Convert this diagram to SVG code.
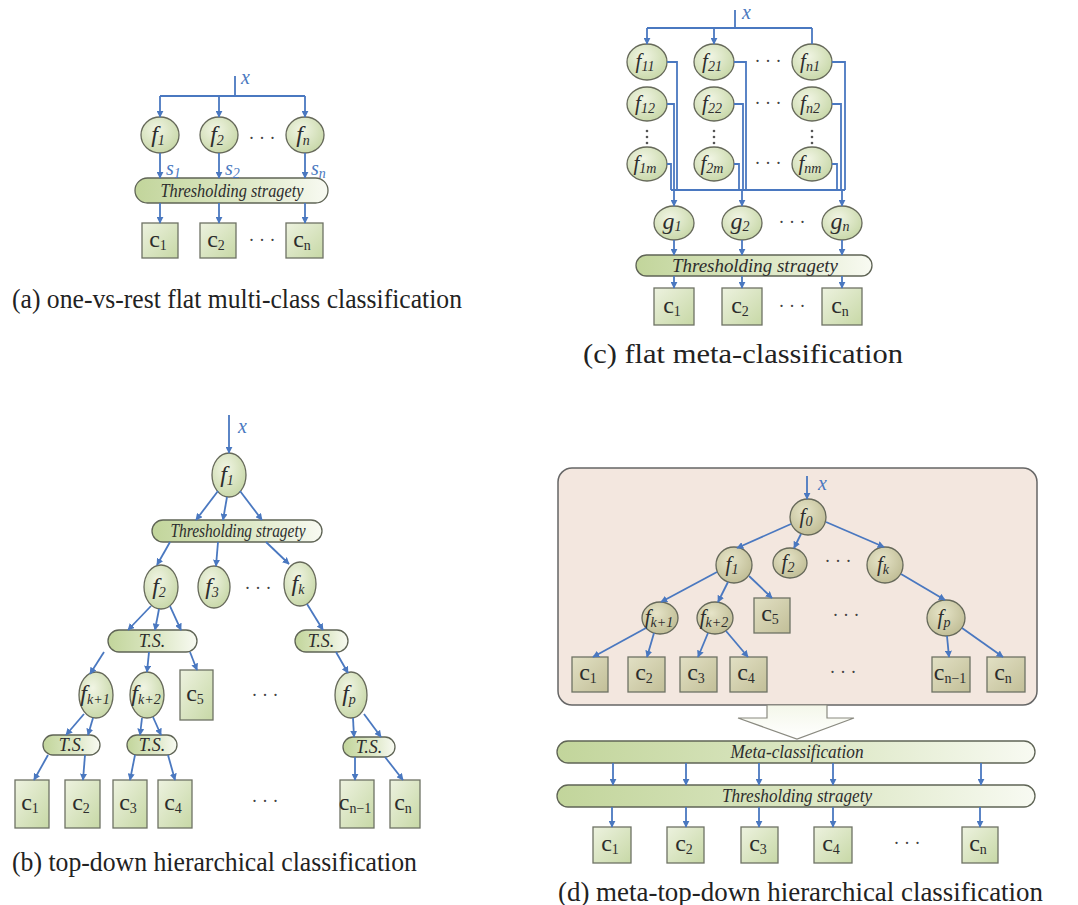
<svg xmlns="http://www.w3.org/2000/svg" width="1078" height="905" viewBox="0 0 1078 905" font-family="'Liberation Serif', serif">
<defs>
<radialGradient id="gN" cx="0.4" cy="0.35" r="0.7"><stop offset="0" stop-color="#f1f5e4"/><stop offset="1" stop-color="#c7d7a7"/></radialGradient>
<radialGradient id="gO" cx="0.4" cy="0.35" r="0.7"><stop offset="0" stop-color="#e6e4c8"/><stop offset="1" stop-color="#bfbc94"/></radialGradient>
<linearGradient id="gB" x1="0" y1="0" x2="1" y2="1"><stop offset="0" stop-color="#edf2df"/><stop offset="1" stop-color="#c7d8a6"/></linearGradient>
<linearGradient id="gBO" x1="0" y1="0" x2="1" y2="1"><stop offset="0" stop-color="#e2e0c4"/><stop offset="1" stop-color="#c2bf98"/></linearGradient>
<linearGradient id="gBar" x1="0" y1="0" x2="1" y2="0"><stop offset="0" stop-color="#c2d59b"/><stop offset="0.6" stop-color="#dfe9c9"/><stop offset="1" stop-color="#f8faf2"/></linearGradient>
<linearGradient id="gArr" x1="0" y1="0" x2="0" y2="1"><stop offset="0" stop-color="#f4f7ea"/><stop offset="1" stop-color="#ffffff"/></linearGradient>
<marker id="ah" viewBox="0 0 10 10" refX="9" refY="5" markerWidth="7" markerHeight="7" markerUnits="userSpaceOnUse" orient="auto"><path d="M0,0 L10,5 L0,10 z" fill="#4a78c0"/></marker>
</defs>
<style>
ellipse{fill:url(#gN);stroke:#66695a;stroke-width:1.3}
rect.bx{fill:url(#gB);stroke:#6e7264;stroke-width:1.3}
rect.bar{fill:url(#gBar);stroke:#5f6455;stroke-width:1.3}
.dd ellipse{fill:url(#gO)}
.dd rect.bx{fill:url(#gBO)}
.c path{fill:none;stroke:#4a78c0;stroke-width:1.8}
.c path.a{marker-end:url(#ah)}
text{font-family:'Liberation Serif',serif;fill:#2d2d2d}
.f{font-style:italic;font-size:24px;text-anchor:middle}
.f2{font-style:italic;font-size:21px;text-anchor:middle}
.sb{font-size:14px}
.cl{font-size:24px;text-anchor:middle}
.ts{font-style:italic;font-size:18px;text-anchor:middle}
.x{font-style:italic;font-size:20px;fill:#4a78c0}
.s{font-style:italic;font-size:20px;fill:#4a78c0}
.dots{font-size:18px;text-anchor:middle;fill:#444}
.cap{font-size:27px;fill:#222}
</style>

<!-- ===== Panel (a) ===== -->
<g id="panel-a">
<g id="a-f1"><ellipse cx="160" cy="135" rx="19" ry="18"/><text class="f" x="158" y="142">f<tspan class="sb" dy="3">1</tspan></text></g>
<g id="a-f2"><ellipse cx="219" cy="135" rx="19" ry="18"/><text class="f" x="217" y="142">f<tspan class="sb" dy="3">2</tspan></text></g>
<g id="a-fn"><ellipse cx="305" cy="135" rx="19" ry="18"/><text class="f" x="303" y="142">f<tspan class="sb" dy="3">n</tspan></text></g>
<text class="dots" x="262" y="144">· · ·</text>
<g id="a-ts"><rect class="bar" x="135" y="178" width="193" height="25" rx="12.5"/><text class="ts" x="232" y="197" textLength="143" lengthAdjust="spacingAndGlyphs">Thresholding stragety</text></g>
<g id="a-c1"><rect class="bx" x="142" y="223" width="36" height="35"/><text class="cl" x="158" y="247">c<tspan class="sb" dy="3">1</tspan></text></g>
<g id="a-c2"><rect class="bx" x="200" y="223" width="36" height="35"/><text class="cl" x="216" y="247">c<tspan class="sb" dy="3">2</tspan></text></g>
<g id="a-cn"><rect class="bx" x="286" y="223" width="37" height="35"/><text class="cl" x="302" y="247">c<tspan class="sb" dy="3">n</tspan></text></g>
<text class="dots" x="262" y="246">· · ·</text>
<text class="x" x="241" y="84">x</text>
<text class="s" x="166" y="175">s<tspan class="sb" dy="3">1</tspan></text>
<text class="s" x="225" y="175">s<tspan class="sb" dy="3">2</tspan></text>
<text class="s" x="311" y="175">s<tspan class="sb" dy="3">n</tspan></text>
<text class="cap" x="12" y="308" textLength="450" lengthAdjust="spacingAndGlyphs">(a) one-vs-rest flat multi-class classification</text>
</g>

<!-- ===== Panel (c) ===== -->
<g id="panel-c">
<g id="c-f11"><ellipse cx="647" cy="62" rx="20" ry="18"/><text class="f2" x="645" y="68">f<tspan class="sb" dy="3">11</tspan></text></g>
<g id="c-f21"><ellipse cx="714" cy="62" rx="20" ry="18"/><text class="f2" x="712" y="68">f<tspan class="sb" dy="3">21</tspan></text></g>
<g id="c-fn1"><ellipse cx="812" cy="62" rx="20" ry="18"/><text class="f2" x="810" y="68">f<tspan class="sb" dy="3">n1</tspan></text></g>
<g id="c-f12"><ellipse cx="647" cy="104" rx="20" ry="17"/><text class="f2" x="645" y="110">f<tspan class="sb" dy="3">12</tspan></text></g>
<g id="c-f22"><ellipse cx="714" cy="104" rx="20" ry="17"/><text class="f2" x="712" y="110">f<tspan class="sb" dy="3">22</tspan></text></g>
<g id="c-fn2"><ellipse cx="812" cy="104" rx="20" ry="17"/><text class="f2" x="810" y="110">f<tspan class="sb" dy="3">n2</tspan></text></g>
<g id="c-f1m"><ellipse cx="647" cy="164" rx="20" ry="17"/><text class="f2" x="645" y="170">f<tspan class="sb" dy="3">1m</tspan></text></g>
<g id="c-f2m"><ellipse cx="714" cy="164" rx="20" ry="17"/><text class="f2" x="712" y="170">f<tspan class="sb" dy="3">2m</tspan></text></g>
<g id="c-fnm"><ellipse cx="812" cy="164" rx="20" ry="17"/><text class="f2" x="810" y="170">f<tspan class="sb" dy="3">nm</tspan></text></g>
<g fill="#555">
<circle cx="647" cy="131" r="1.3"/><circle cx="647" cy="137" r="1.3"/><circle cx="647" cy="143" r="1.3"/>
<circle cx="714" cy="131" r="1.3"/><circle cx="714" cy="137" r="1.3"/><circle cx="714" cy="143" r="1.3"/>
<circle cx="812" cy="131" r="1.3"/><circle cx="812" cy="137" r="1.3"/><circle cx="812" cy="143" r="1.3"/>
</g>
<text class="dots" x="768" y="67">· · ·</text>
<text class="dots" x="768" y="109">· · ·</text>
<text class="dots" x="768" y="169">· · ·</text>
<g id="c-g1"><ellipse cx="674" cy="223" rx="20" ry="17"/><text class="f" x="672" y="229">g<tspan class="sb" dy="2">1</tspan></text></g>
<g id="c-g2"><ellipse cx="742" cy="223" rx="20" ry="17"/><text class="f" x="740" y="229">g<tspan class="sb" dy="2">2</tspan></text></g>
<g id="c-gn"><ellipse cx="842" cy="223" rx="20" ry="17"/><text class="f" x="840" y="229">g<tspan class="sb" dy="2">n</tspan></text></g>
<text class="dots" x="792" y="228">· · ·</text>
<g id="c-ts"><rect class="bar" x="636" y="255" width="236" height="21" rx="10.5"/><text class="ts" x="755" y="272" textLength="166" lengthAdjust="spacingAndGlyphs">Thresholding stragety</text></g>
<g id="c-c1"><rect class="bx" x="654" y="288" width="40" height="37"/><text class="cl" x="672" y="313">c<tspan class="sb" dy="3">1</tspan></text></g>
<g id="c-c2"><rect class="bx" x="722" y="288" width="40" height="37"/><text class="cl" x="740" y="313">c<tspan class="sb" dy="3">2</tspan></text></g>
<g id="c-cn"><rect class="bx" x="822" y="288" width="40" height="37"/><text class="cl" x="840" y="313">c<tspan class="sb" dy="3">n</tspan></text></g>
<text class="dots" x="792" y="312">· · ·</text>
<text class="x" x="742" y="19">x</text>
<text class="cap" x="583" y="363" textLength="320" lengthAdjust="spacingAndGlyphs">(c)  flat meta-classification</text>
</g>

<!-- ===== Panel (b) ===== -->
<g id="panel-b">
<g id="b-f1"><ellipse cx="229" cy="475" rx="17" ry="22"/><text class="f" x="227" y="482">f<tspan class="sb" dy="3">1</tspan></text></g>
<g id="b-ts1"><rect class="bar" x="152" y="520" width="170" height="22" rx="11"/><text class="ts" x="238" y="537" textLength="135" lengthAdjust="spacingAndGlyphs">Thresholding stragety</text></g>
<g id="b-f2"><ellipse cx="161" cy="587" rx="17" ry="22"/><text class="f" x="159" y="594">f<tspan class="sb" dy="3">2</tspan></text></g>
<g id="b-f3"><ellipse cx="214" cy="587" rx="16" ry="21"/><text class="f" x="212" y="594">f<tspan class="sb" dy="3">3</tspan></text></g>
<g id="b-fk"><ellipse cx="300" cy="584" rx="16" ry="22"/><text class="f" x="298" y="591">f<tspan class="sb" dy="3">k</tspan></text></g>
<text class="dots" x="258" y="594">· · ·</text>
<g id="b-ts2"><rect class="bar" x="108" y="630" width="89" height="22" rx="11"/><text class="ts" x="152" y="647">T.S.</text></g>
<g id="b-ts3"><rect class="bar" x="295" y="630" width="53" height="22" rx="11"/><text class="ts" x="321" y="647">T.S.</text></g>
<g id="b-fk1"><ellipse cx="96" cy="695" rx="17" ry="23"/><text class="f" x="95" y="701">f<tspan class="sb" dy="3">k+1</tspan></text></g>
<g id="b-fk2"><ellipse cx="147" cy="695" rx="17" ry="23"/><text class="f" x="146" y="701">f<tspan class="sb" dy="3">k+2</tspan></text></g>
<g id="b-c5"><rect class="bx" x="180" y="670" width="33" height="50"/><text class="cl" x="195" y="701">c<tspan class="sb" dy="3">5</tspan></text></g>
<text class="dots" x="265" y="701">· · ·</text>
<g id="b-fp"><ellipse cx="351" cy="695" rx="16" ry="23"/><text class="f" x="349" y="701">f<tspan class="sb" dy="3">p</tspan></text></g>
<g id="b-ts4"><rect class="bar" x="43" y="735" width="57" height="20" rx="10"/><text class="ts" x="72" y="751">T.S.</text></g>
<g id="b-ts5"><rect class="bar" x="127" y="735" width="50" height="20" rx="10"/><text class="ts" x="152" y="751">T.S.</text></g>
<g id="b-ts6"><rect class="bar" x="343" y="737" width="52" height="20" rx="10"/><text class="ts" x="369" y="753">T.S.</text></g>
<g id="b-c1"><rect class="bx" x="15" y="780" width="34" height="48"/><text class="cl" x="30" y="810">c<tspan class="sb" dy="3">1</tspan></text></g>
<g id="b-c2"><rect class="bx" x="65" y="780" width="35" height="48"/><text class="cl" x="81" y="810">c<tspan class="sb" dy="3">2</tspan></text></g>
<g id="b-c3"><rect class="bx" x="113" y="780" width="34" height="48"/><text class="cl" x="128" y="810">c<tspan class="sb" dy="3">3</tspan></text></g>
<g id="b-c4"><rect class="bx" x="158" y="780" width="34" height="48"/><text class="cl" x="173" y="810">c<tspan class="sb" dy="3">4</tspan></text></g>
<g id="b-cn1"><rect class="bx" x="340" y="780" width="34" height="48"/><text class="cl" x="355" y="810">c<tspan class="sb" dy="3">n−1</tspan></text></g>
<g id="b-cn"><rect class="bx" x="390" y="780" width="30" height="48"/><text class="cl" x="403" y="810">c<tspan class="sb" dy="3">n</tspan></text></g>
<text class="dots" x="265" y="807">· · ·</text>
<text class="x" x="238" y="433">x</text>
<text class="cap" x="12" y="871" textLength="405" lengthAdjust="spacingAndGlyphs">(b) top-down hierarchical classification</text>
</g>

<!-- ===== Panel (d) ===== -->
<g id="panel-d">
<rect id="d-frame" x="558" y="468" width="479" height="237" rx="14" fill="#f3e7df" stroke="#666" stroke-width="1.5"/>
<g class="dd">
<g id="d-f0"><ellipse cx="808" cy="517" rx="18" ry="18"/><text class="f2" x="806" y="523">f<tspan class="sb" dy="3">0</tspan></text></g>
<g id="d-f1"><ellipse cx="734" cy="565" rx="18" ry="18"/><text class="f2" x="732" y="571">f<tspan class="sb" dy="3">1</tspan></text></g>
<g id="d-f2"><ellipse cx="790" cy="563" rx="17" ry="15"/><text class="f2" x="788" y="569">f<tspan class="sb" dy="3">2</tspan></text></g>
<g id="d-fk"><ellipse cx="885" cy="565" rx="18" ry="18"/><text class="f2" x="883" y="571">f<tspan class="sb" dy="3">k</tspan></text></g>
<g id="d-fk1"><ellipse cx="660" cy="618" rx="18" ry="16"/><text class="f2" x="659" y="624">f<tspan class="sb" dy="3">k+1</tspan></text></g>
<g id="d-fk2"><ellipse cx="715" cy="618" rx="18" ry="16"/><text class="f2" x="714" y="624">f<tspan class="sb" dy="3">k+2</tspan></text></g>
<g id="d-c5"><rect class="bx" x="754" y="598" width="36" height="35"/><text class="cl" x="770" y="621">c<tspan class="sb" dy="3">5</tspan></text></g>
<g id="d-fp"><ellipse cx="946" cy="618" rx="19" ry="18"/><text class="f2" x="944" y="624">f<tspan class="sb" dy="3">p</tspan></text></g>
<g id="d-c1"><rect class="bx" x="572" y="657" width="36" height="35"/><text class="cl" x="588" y="680">c<tspan class="sb" dy="3">1</tspan></text></g>
<g id="d-c2"><rect class="bx" x="628" y="657" width="37" height="35"/><text class="cl" x="644" y="680">c<tspan class="sb" dy="3">2</tspan></text></g>
<g id="d-c3"><rect class="bx" x="680" y="657" width="37" height="35"/><text class="cl" x="696" y="680">c<tspan class="sb" dy="3">3</tspan></text></g>
<g id="d-c4"><rect class="bx" x="730" y="657" width="37" height="35"/><text class="cl" x="746" y="680">c<tspan class="sb" dy="3">4</tspan></text></g>
<g id="d-cn1"><rect class="bx" x="932" y="657" width="38" height="35"/><text class="cl" x="950" y="680">c<tspan class="sb" dy="3">n−1</tspan></text></g>
<g id="d-cn"><rect class="bx" x="987" y="657" width="38" height="35"/><text class="cl" x="1003" y="680">c<tspan class="sb" dy="3">n</tspan></text></g>
</g>
<text class="dots" x="838" y="567">· · ·</text>
<text class="dots" x="846" y="621">· · ·</text>
<text class="dots" x="843" y="678">· · ·</text>
<text class="x" x="818" y="490">x</text>
<polygon id="d-bigarrow" points="767,705 827,705 827,718 854,718 797,739 738,718 767,718" fill="url(#gArr)" stroke="#8a8a80" stroke-width="1.2"/>
<g id="d-meta"><rect class="bar" x="557" y="741" width="478" height="22" rx="11"/><text class="ts" x="797" y="758" textLength="133" lengthAdjust="spacingAndGlyphs">Meta-classification</text></g>
<g id="d-ts"><rect class="bar" x="557" y="785" width="478" height="22" rx="11"/><text class="ts" x="797" y="802" textLength="150" lengthAdjust="spacingAndGlyphs">Thresholding stragety</text></g>
<g id="d-o1"><rect class="bx" x="593" y="827" width="38" height="36"/><text class="cl" x="610" y="851">c<tspan class="sb" dy="3">1</tspan></text></g>
<g id="d-o2"><rect class="bx" x="667" y="827" width="37" height="36"/><text class="cl" x="684" y="851">c<tspan class="sb" dy="3">2</tspan></text></g>
<g id="d-o3"><rect class="bx" x="741" y="827" width="37" height="36"/><text class="cl" x="758" y="851">c<tspan class="sb" dy="3">3</tspan></text></g>
<g id="d-o4"><rect class="bx" x="814" y="827" width="38" height="36"/><text class="cl" x="831" y="851">c<tspan class="sb" dy="3">4</tspan></text></g>
<g id="d-on"><rect class="bx" x="962" y="827" width="36" height="36"/><text class="cl" x="978" y="851">c<tspan class="sb" dy="3">n</tspan></text></g>
<text class="dots" x="907" y="849">· · ·</text>
<text class="cap" x="558" y="901" textLength="485" lengthAdjust="spacingAndGlyphs">(d) meta-top-down hierarchical classification</text>
</g>

<!-- ===== Connectors ===== -->
<g id="connectors" class="c">
<!-- (a) -->
<path d="M235,76 L235,96"/>
<path d="M160,96 L305,96"/>
<path class="a" d="M160,96 L160,117"/>
<path class="a" d="M219,96 L219,117"/>
<path class="a" d="M305,96 L305,117"/>
<path class="a" d="M160,153 L160,178"/>
<path class="a" d="M219,153 L219,178"/>
<path class="a" d="M305,153 L305,178"/>
<path class="a" d="M160,203 L160,223"/>
<path class="a" d="M219,203 L219,223"/>
<path class="a" d="M305,203 L305,223"/>
<!-- (c) -->
<path d="M735,10 L735,28"/>
<path d="M647,28 L812,28"/>
<path class="a" d="M647,28 L647,44"/>
<path class="a" d="M714,28 L714,44"/>
<path d="M812,28 L812,44"/>
<path d="M667,62 L677,62 L677,190"/>
<path d="M667,104 L674,104 L674,190"/>
<path d="M667,164 L671,164 L671,190"/>
<path d="M734,62 L746,62 L746,190"/>
<path d="M734,104 L743,104 L743,190"/>
<path d="M734,164 L739,164 L739,190"/>
<path d="M832,62 L845,62 L845,190"/>
<path d="M832,104 L841,104 L841,190"/>
<path d="M832,164 L837,164 L837,190"/>
<path d="M671,190 L845,190"/>
<path class="a" d="M674,190 L674,206"/>
<path class="a" d="M742,190 L742,206"/>
<path class="a" d="M842,190 L842,206"/>
<path class="a" d="M674,240 L674,255"/>
<path class="a" d="M742,240 L742,255"/>
<path class="a" d="M842,240 L842,255"/>
<path class="a" d="M674,276 L674,288"/>
<path class="a" d="M742,276 L742,288"/>
<path class="a" d="M842,276 L842,288"/>
<!-- (b) -->
<path class="a" d="M229,415 L229,453"/>
<path class="a" d="M218,491 L196,520"/>
<path class="a" d="M227,497 L223,520"/>
<path class="a" d="M240,491 L262,520"/>
<path class="a" d="M170,542 L157,565"/>
<path class="a" d="M218,542 L216,566"/>
<path class="a" d="M266,542 L289,564"/>
<path class="a" d="M151,606 L128,630"/>
<path class="a" d="M159,609 L155,630"/>
<path class="a" d="M170,606 L181,630"/>
<path class="a" d="M307,604 L323,630"/>
<path class="a" d="M104,652 L90,674"/>
<path class="a" d="M149,652 L147,672"/>
<path class="a" d="M190,652 L197,670"/>
<path class="a" d="M336,652 L348,673"/>
<path class="a" d="M84,714 L66,735"/>
<path class="a" d="M93,718 L88,735"/>
<path class="a" d="M142,718 L140,735"/>
<path class="a" d="M153,717 L161,735"/>
<path class="a" d="M353,718 L354,737"/>
<path class="a" d="M364,714 L381,737"/>
<path class="a" d="M48,755 L34,780"/>
<path class="a" d="M85,755 L83,780"/>
<path class="a" d="M135,755 L130,780"/>
<path class="a" d="M168,755 L175,780"/>
<path class="a" d="M355,757 L355,780"/>
<path class="a" d="M385,757 L403,780"/>
<!-- (d) -->
<path class="a" d="M807,476 L807,499"/>
<path class="a" d="M791,524 L737,548"/>
<path class="a" d="M801,534 L794,548"/>
<path class="a" d="M826,522 L884,547"/>
<path class="a" d="M901,574 L945,600"/>
<path class="a" d="M717,572 L661,602"/>
<path class="a" d="M728,582 L718,602"/>
<path class="a" d="M749,576 L772,598"/>
<path class="a" d="M646,628 L593,657"/>
<path class="a" d="M654,633 L647,657"/>
<path class="a" d="M708,633 L698,657"/>
<path class="a" d="M726,631 L748,657"/>
<path class="a" d="M947,636 L949,657"/>
<path class="a" d="M962,628 L1003,657"/>
<path class="a" d="M613,763 L613,785"/>
<path class="a" d="M686,763 L686,785"/>
<path class="a" d="M759,763 L759,785"/>
<path class="a" d="M833,763 L833,785"/>
<path class="a" d="M981,763 L981,785"/>
<path class="a" d="M612,807 L612,827"/>
<path class="a" d="M686,807 L686,827"/>
<path class="a" d="M759,807 L759,827"/>
<path class="a" d="M833,807 L833,827"/>
<path class="a" d="M980,807 L980,827"/>
</g>
</svg>
